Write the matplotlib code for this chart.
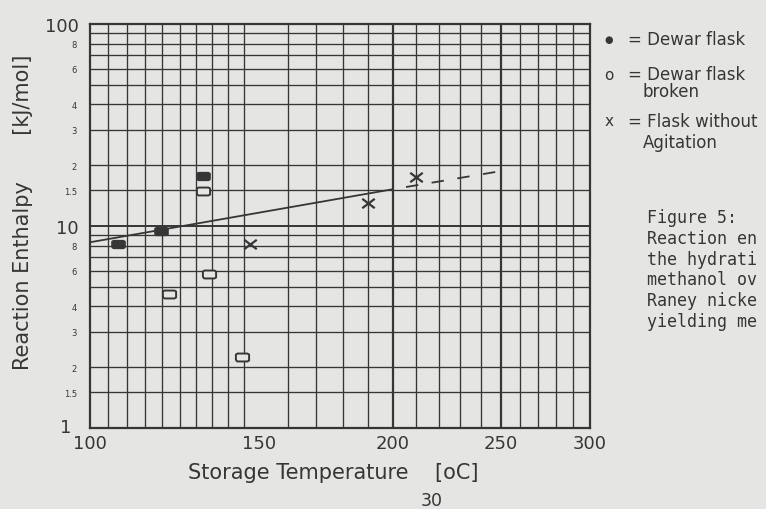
import numpy as np
import matplotlib.pyplot as plt
from matplotlib.path import Path
from matplotlib.ticker import NullLocator
from matplotlib.transforms import ScaledTranslation

# Reaction enthalpy vs storage temperature (Arrhenius-type x axis)
dewar_T = [107.5, 119.5, 132]          # Dewar flask (filled)
dewar_H = [8.1, 9.4, 17.7]
broken_T = [122, 132, 134, 144.5]      # Dewar flask broken (open)
broken_H = [4.6, 14.9, 5.8, 2.25]
noagit_T = [147, 190, 210]             # flask without agitation (x)
noagit_H = [8.1, 13.0, 17.4]

# fitted line and its dashed extension
fit_T = [100, 200]
fit_H = [8.3, 15.2]
ext_T = [200, 250]
ext_H = [15.2, 18.7]

x_ticks = [100, 150, 200, 250, 300]
y_major = [1, 10, 100]
y_major_labels = ['1', '10', '100']
y_minor = [1.5, 2, 3, 4, 6, 8, 15, 20, 30, 40, 60, 80]
y_minor_labels = ['1.5', '2', '3', '4', '6', '8'] * 2

legend_lines = ['= Dewar flask', '= Dewar flask', 'broken', '= Flask without', 'Agitation']
caption = ['Figure 5:', 'Reaction en', 'the hydrati', 'methanol ov', 'Raney nicke', 'yielding me']

bg = '#e5e5e3'
ink = '#363636'
W, H = 766, 510


def fwd(t):
    return -1000.0 / (np.asarray(t, dtype=float) + 273.15)


def inv(u):
    return -1000.0 / np.asarray(u, dtype=float) - 273.15


fig = plt.figure(figsize=(W / 100, H / 100), dpi=100, facecolor=bg)
ax = fig.add_axes([89.5 / W, 1 - 429 / H, 500.5 / W, 404 / H])
ax.set_facecolor(bg)
ax.set_xscale('function', functions=(fwd, inv))
ax.set_yscale('log')
ax.set_xlim(100, 300)
ax.set_ylim(1, 100)

# graph paper grid
for t in list(range(105, 150, 5)) + list(range(160, 300, 10)):
    heavy = t in (150, 200, 250)
    ax.axvline(t, color=ink, lw=1.6 if heavy else 0.95, zorder=1)
for d in (1, 10):
    for m in (1.5, 2, 3, 4, 5, 6, 7, 8, 9):
        ax.axhline(m * d, color=ink, lw=0.95, zorder=1)
ax.axhline(10, color=ink, lw=1.4, zorder=1)

for s in ax.spines.values():
    s.set_linewidth(1.6)
    s.set_color(ink)

# fit line
ax.plot(fit_T, fit_H, color=ink, lw=1.3, zorder=3)
ax.plot(ext_T, ext_H, color=ink, lw=1.3, ls=(6.9, (6.9, 7.5)), zorder=3)

rect = [(-1, -0.45), (-0.75, -0.6), (0.75, -0.6), (1, -0.45),
        (1, 0.45), (0.75, 0.6), (-0.75, 0.6), (-1, 0.45), (-1, -0.45)]
cross = Path([(-1, -0.75), (1, 0.75), (-1, 0.75), (1, -0.75)],
             [Path.MOVETO, Path.LINETO, Path.MOVETO, Path.LINETO])

ax.plot(dewar_T, dewar_H, ls='none', marker=rect, ms=9.5, color=ink, mec=ink, zorder=4)
ax.plot(broken_T, broken_H, ls='none', marker=rect, ms=9.5, mfc=bg, mec=ink, mew=1.4, zorder=4)
ax.plot(noagit_T, noagit_H, ls='none', marker=cross, ms=9, mfc='none', mec=ink, mew=1.6, zorder=4)

# ticks
ax.set_xticks(x_ticks)
ax.set_xticklabels([str(t) for t in x_ticks])
ax.xaxis.set_minor_locator(NullLocator())
ax.set_yticks(y_major)
ax.set_yticklabels(y_major_labels)
ax.set_yticks(y_minor, minor=True)
ax.set_yticklabels(y_minor_labels, minor=True)
ax.tick_params(axis='both', which='both', length=0, colors=ink)
ax.tick_params(axis='x', labelsize=13, pad=4)
ax.tick_params(axis='y', which='major', labelsize=13, pad=8)
ax.tick_params(axis='y', which='minor', labelsize=6, pad=9)

# the "1" sits a little left and up, clear of the "100" below it
one = ax.get_yticklabels()[0]
one.set_transform(one.get_transform() + ScaledTranslation(-7 / 100, 3 / 100, fig.dpi_scale_trans))

ax.set_xlabel('Storage Temperature    [oC]', fontsize=15, color=ink)
ax.xaxis.set_label_coords(0.4865, -0.084)
ax.set_ylabel('Reaction Enthalpy       [kJ/mol]', fontsize=15, color=ink)
ax.yaxis.set_label_coords(-0.113, 0.537)


def ftext(x, y, s, **kw):
    fig.text(x / W, 1 - y / H, s, color=ink, **kw)


# legend written beside the graph
ftext(609, 40, '\u25cf', fontsize=7, ha='center', va='center')
ftext(609, 75, 'o', fontsize=11, ha='center', va='center')
ftext(609, 121, 'x', fontsize=11, ha='center', va='center')
for s, x, y in zip(legend_lines, [628, 628, 643, 628, 643], [45, 80, 97, 127, 148]):
    ftext(x, y, s, fontsize=12, va='baseline')

ftext(647, 209, '\n'.join(caption), fontsize=12, family='DejaVu Sans Mono',
      va='top', linespacing=1.2)
ftext(432, 501, '30', fontsize=12.5, ha='center', va='center')

fig.savefig('out.png', dpi=100, facecolor=bg)
